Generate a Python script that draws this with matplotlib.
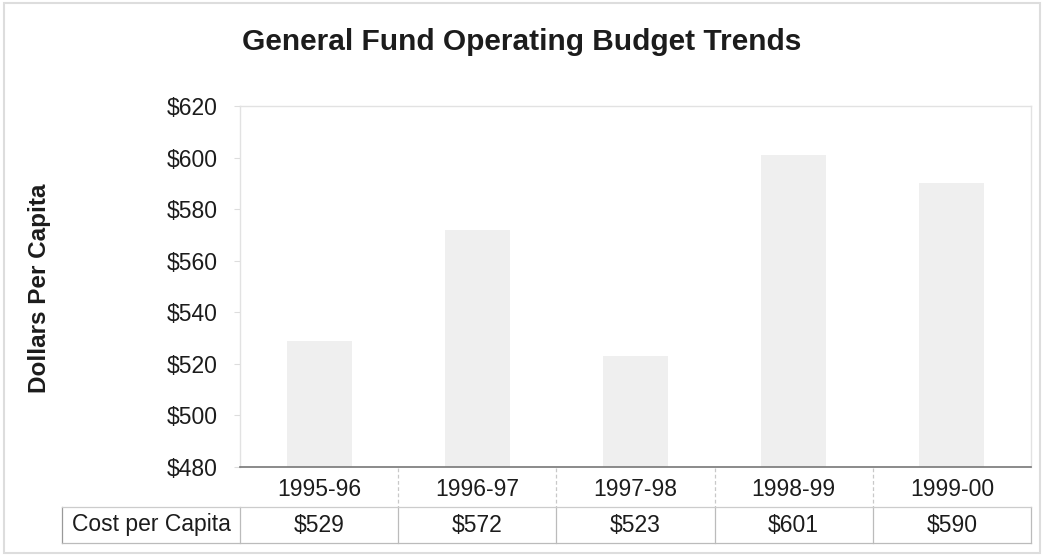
import matplotlib.pyplot as plt
from matplotlib.lines import Line2D
from matplotlib.patches import Rectangle
from matplotlib.transforms import blended_transform_factory
import numpy as np

plt.rcParams['font.family'] = ['Liberation Sans', 'DejaVu Sans']

years = ['1995-96', '1996-97', '1997-98', '1998-99', '1999-00']
cost_per_capita = [529, 572, 523, 601, 590]
yticks = [480, 500, 520, 540, 560, 580, 600, 620]

W, H = 1045, 558
fig = plt.figure(figsize=(W / 100, H / 100), dpi=100)


def fx(px):
    return px / W


def fy(py):
    return 1 - py / H


txt_c = '#1c1c1c'

# plot area
ax = fig.add_axes([fx(240), fy(467), fx(1031) - fx(240), fy(106) - fy(467)])
x = np.arange(len(years))
ax.bar(x, np.array(cost_per_capita) - 480, bottom=480, width=0.41,
       color='#efefef', edgecolor='none', zorder=1)

ax.set_xlim(-0.5, len(years) - 0.5)
ax.set_ylim(480, 620)
ax.set_yticks(yticks, [f'${v}' for v in yticks], fontsize=16.5, color=txt_c)
ax.set_xticks([])
ax.tick_params(axis='y', length=4, width=0.8, color='#dddddd', pad=12)
for side in ['left', 'top', 'right']:
    ax.spines[side].set_color('#e2e2e2')
    ax.spines[side].set_linewidth(1.0)
ax.spines['bottom'].set_color('#777777')
ax.spines['bottom'].set_linewidth(1.2)

fig.text(fx(522), fy(42), 'General Fund Operating Budget Trends',
         ha='center', va='center', fontsize=21.5, fontweight='bold', color=txt_c)
fig.text(fx(40), fy(288), 'Dollars Per Capita', rotation=90,
         ha='center', va='center', fontsize=17.5, fontweight='bold', color=txt_c)

# data table under the chart
trans = blended_transform_factory(ax.transData, fig.transFigure)
for i, (yr, val) in enumerate(zip(years, cost_per_capita)):
    ax.text(i, fy(489), yr, transform=trans, ha='center', va='center',
            fontsize=16.5, color=txt_c, clip_on=False)
    ax.text(i, fy(525), f'${val}', transform=trans, ha='center', va='center',
            fontsize=16.5, color=txt_c, clip_on=False)
fig.text(fx(151), fy(525), 'Cost per Capita', ha='center', va='center',
         fontsize=16.5, color=txt_c)

grid_c = '#bbbbbb'
for k in range(len(years) - 1):
    xs = k + 0.5
    ax.add_line(Line2D([xs, xs], [fy(468), fy(507)], transform=trans,
                       color='#c8c8c8', lw=0.9, ls=(0, (3, 2)), clip_on=False))
for xs in np.arange(-0.5, len(years)):
    ax.add_line(Line2D([xs, xs], [fy(507), fy(543)], transform=trans,
                       color=grid_c, lw=0.9, clip_on=False))
fig.add_artist(Line2D([fx(62), fx(62)], [fy(507), fy(543)], color='#999999', lw=0.9))
fig.add_artist(Line2D([fx(62), fx(1031)], [fy(507), fy(507)], color='#cccccc', lw=0.9))
fig.add_artist(Line2D([fx(62), fx(1031)], [fy(543), fy(543)], color='#bbbbbb', lw=0.9))

# page frame
fig.add_artist(Rectangle((fx(4), fy(553)), fx(1040) - fx(4), fy(3) - fy(553),
                         transform=fig.transFigure, fill=False,
                         edgecolor='#dddddd', lw=1.5))

fig.savefig('out.png', dpi=100)
